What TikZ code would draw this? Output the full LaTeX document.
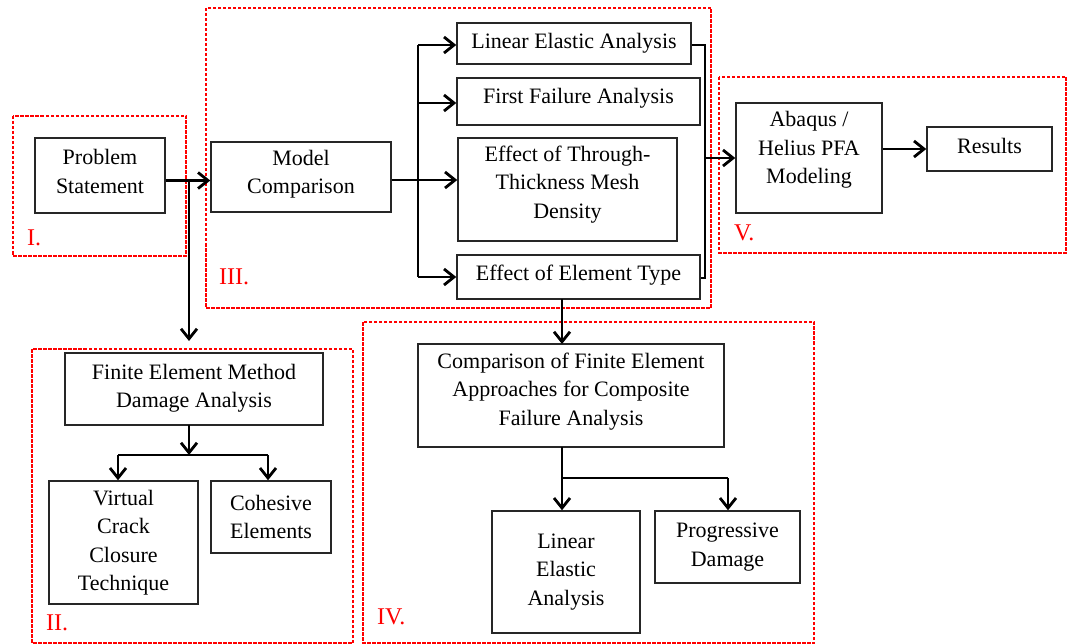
\documentclass[tikz,border=0pt]{standalone}
\usepackage{fontspec}
\setmainfont{Liberation Serif}
\usetikzlibrary{arrows.meta,calc}
\tikzset{
  box/.style={draw=black!85, line width=1.5pt, rectangle, inner sep=0pt},
  txt/.style={align=center, inner sep=0pt, font=\fontsize{22}{28.5}\selectfont},
  region/.style={draw=red, line width=1.1pt, dash pattern=on 3.5pt off 1.5pt},
  rlab/.style={text=red, anchor=west, inner sep=0pt, font=\fontsize{24}{28}\selectfont},
  conn/.style={line width=2.8pt, black},
  arr/.style={conn, -{Straight Barb[length=10pt,width=16pt]}},
}
\newcommand\bx[7]{%
  \node[box, minimum width=#3pt, minimum height=#4pt] (#1) at (#2) {};
  \node[txt] (#1t) at ([yshift=#5pt]#1.center) {#6};
}
\begin{document}
\begin{tikzpicture}[x=1pt,y=-1pt]
\useasboundingbox (0,0) rectangle (1070,644);
% regions
\draw[region] (13,116) rectangle (186,256);
\draw[region] (206,8) rectangle (711,308);
\draw[region] (719,77) rectangle (1066,253);
\draw[region] (32,349) rectangle (353,643);
\draw[region] (363,322) rectangle (814,643);
\node[rlab] (lI) at (27,238) {I.};
\node[rlab] (lIII) at (219,277) {III.};
\node[rlab] (lV) at (734,233) {V.};
\node[rlab] (lII) at (46,623) {II.};
\node[rlab] (lIV) at (377,617) {IV.};
% boxes
\bx{ps}{100,175.5}{130}{75}{4}{Problem\\Statement}{}
\bx{mc}{301,177}{180}{70}{3}{Model\\Comparison}{}
\bx{lea}{574,43.5}{234}{41}{0}{Linear Elastic Analysis}{}
\bx{ffa}{578.5,101.5}{243}{47}{3}{First Failure Analysis}{}
\bx{ett}{567.5,189.5}{219}{103}{5}{Effect of Through-\\Thickness Mesh\\Density}{}
\bx{eet}{578.5,277}{243}{44}{2}{Effect of Element Type}{}
\bx{abq}{809,158}{146}{110}{8}{Abaqus /\\Helius PFA\\Modeling}{}
\bx{res}{989.5,149}{125}{44}{3}{Results}{}
\bx{fem}{194,389}{258}{72}{1}{Finite Element Method\\Damage Analysis}{}
\bx{vcct}{123.5,542.5}{149}{123}{0}{Virtual\\Crack\\Closure\\Technique}{}
\bx{coh}{271,517}{120}{72}{0}{Cohesive\\Elements}{}
\bx{cfe}{571,395.5}{306}{103}{4}{Comparison of Finite Element\\Approaches for Composite\\Failure Analysis}{}
\bx{lea2}{566,572}{148}{122}{0}{Linear\\Elastic\\Analysis}{}
\bx{pd}{727.5,547}{145}{72}{0}{Progressive\\Damage}{}
% coordinates
\coordinate (j1) at (189,180.5);
\coordinate (femIn) at (189,341);
\coordinate (t0) at (418,180);
\coordinate (tA) at (418,45);
\coordinate (tB) at (418,103);
\coordinate (tD) at (418,277);
\coordinate (cA) at (705,45);
\coordinate (cD) at (705,278);
\coordinate (cM) at (705,158);
\coordinate (e1) at (562,299);
\coordinate (e2) at (562,344);
\coordinate (f1) at (189,425);
\coordinate (f2) at (189,455);
\coordinate (fL) at (118,455);
\coordinate (fR) at (268,455);
\coordinate (g1) at (562,447);
\coordinate (g2) at (562,478);
\coordinate (gR) at (728,478);
% connectors
\draw[arr] (ps.east |- j1) -- (mc.west |- j1);
\draw[arr] (j1) -- (femIn);
\draw[conn] (mc.east |- t0) -- (t0);
\draw[conn] (tA) -- (tD);
\draw[arr] (tA) -- (lea.west |- tA);
\draw[arr] (tB) -- (ffa.west |- tB);
\draw[arr] (t0) -- (ett.west |- t0);
\draw[arr] (tD) -- (eet.west |- tD);
\draw[conn] (lea.east |- cA) -- (cA) -- (cD) -- (eet.east |- cD);
\draw[arr] (cM) -- (abq.west |- cM);
\draw[arr] (abq.east |- res.west) -- (res.west);
\draw[arr] (e1) -- (e2);
\draw[arr] (f1) -- (f2);
\draw[conn] (fL) -- (fR);
\draw[arr] (fL) -- (vcct.north -| fL);
\draw[arr] (fR) -- (coh.north -| fR);
\draw[conn] (g1) -- (g2) -- (gR);
\draw[arr] (g2) -- (lea2.north -| g2);
\draw[arr] (gR) -- (pd.north -| gR);
\end{tikzpicture}
\end{document}
